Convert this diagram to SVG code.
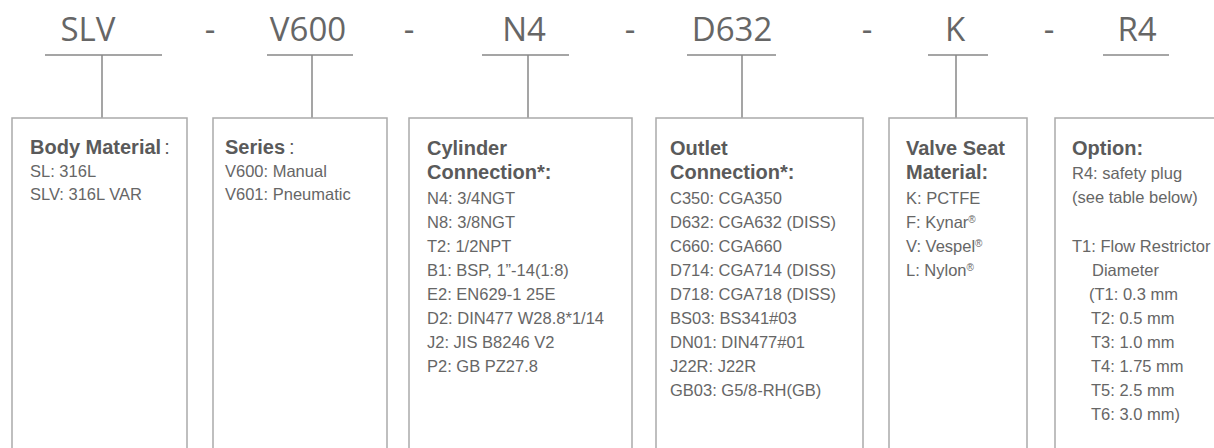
<svg xmlns="http://www.w3.org/2000/svg" width="1214" height="448" viewBox="0 0 1214 448">
<style>
.code{font-family:"Open Sans","Liberation Sans",sans-serif;font-size:33px;fill:#666;text-anchor:middle}
.ln{stroke:#888;stroke-width:1.5;fill:none}
.box{stroke:#aaa;stroke-width:1.5;fill:none}
.hd{font-family:"Liberation Sans",Arial,sans-serif;font-size:20px;font-weight:bold;fill:#5a5a5a}
.tx{font-family:"Liberation Sans",Arial,sans-serif;font-size:16.5px;fill:#666}
.rg{font-weight:normal}
.sup{font-size:10px}
</style>
<rect width="1214" height="448" fill="#fff"/>
<g id="codes">
<text class="code" x="88" y="41">SLV</text>
<text class="code" x="210" y="41">-</text>
<text class="code" x="308" y="41">V600</text>
<text class="code" x="409" y="41">-</text>
<text class="code" x="524" y="41">N4</text>
<text class="code" x="630" y="41">-</text>
<text class="code" x="732" y="41">D632</text>
<text class="code" x="867" y="41">-</text>
<text class="code" x="955" y="41">K</text>
<text class="code" x="1049" y="41">-</text>
<text class="code" x="1137" y="41">R4</text>
</g>
<g id="connectors">
<path class="ln" d="M45 55H162M102 55V118"/>
<path class="ln" d="M267 55H353M312 55V118"/>
<path class="ln" d="M482 55H569M528 55V118"/>
<path class="ln" d="M687 55H776M742 55V118"/>
<path class="ln" d="M928 55H988M956 55V118"/>
<path class="ln" d="M1103 55H1169"/>
</g>
<g id="body-material">
<path class="box" d="M12 460V118H187V460"/>
<text class="hd" x="30" y="154">Body Material<tspan class="rg" dx="3">:</tspan></text>
<text class="tx" x="30" y="177">SL: 316L</text>
<text class="tx" x="30" y="200">SLV: 316L VAR</text>
</g>
<g id="series">
<path class="box" d="M213 460V118H387V460"/>
<text class="hd" x="225" y="154">Series<tspan class="rg" dx="4">:</tspan></text>
<text class="tx" x="225" y="177">V600: Manual</text>
<text class="tx" x="225" y="200">V601: Pneumatic</text>
</g>
<g id="cylinder-connection">
<path class="box" d="M409 460V118H632V460"/>
<text class="hd" x="427" y="155">Cylinder</text>
<text class="hd" x="427" y="179">Connection*:</text>
<text class="tx" x="427" y="204">N4: 3/4NGT</text>
<text class="tx" x="427" y="228">N8: 3/8NGT</text>
<text class="tx" x="427" y="252">T2: 1/2NPT</text>
<text class="tx" x="427" y="276">B1: BSP, 1”-14(1:8)</text>
<text class="tx" x="427" y="300">E2: EN629-1 25E</text>
<text class="tx" x="427" y="324">D2: DIN477 W28.8*1/14</text>
<text class="tx" x="427" y="348">J2: JIS B8246 V2</text>
<text class="tx" x="427" y="372">P2: GB PZ27.8</text>
</g>
<g id="outlet-connection">
<path class="box" d="M656 460V118H863V460"/>
<text class="hd" x="670" y="155">Outlet</text>
<text class="hd" x="670" y="179">Connection*:</text>
<text class="tx" x="670" y="204">C350: CGA350</text>
<text class="tx" x="670" y="228">D632: CGA632 (DISS)</text>
<text class="tx" x="670" y="252">C660: CGA660</text>
<text class="tx" x="670" y="276">D714: CGA714 (DISS)</text>
<text class="tx" x="670" y="300">D718: CGA718 (DISS)</text>
<text class="tx" x="670" y="324">BS03: BS341#03</text>
<text class="tx" x="670" y="348">DN01: DIN477#01</text>
<text class="tx" x="670" y="372">J22R: J22R</text>
<text class="tx" x="670" y="396">GB03: G5/8-RH(GB)</text>
</g>
<g id="valve-seat-material">
<path class="box" d="M889 460V118H1027V460"/>
<text class="hd" x="906" y="155">Valve Seat</text>
<text class="hd" x="906" y="179">Material:</text>
<text class="tx" x="906" y="204">K: PCTFE</text>
<text class="tx" x="906" y="228">F: Kynar<tspan class="sup" dy="-5">®</tspan></text>
<text class="tx" x="906" y="252">V: Vespel<tspan class="sup" dy="-5">®</tspan></text>
<text class="tx" x="906" y="276">L: Nylon<tspan class="sup" dy="-5">®</tspan></text>
</g>
<g id="option">
<path class="box" d="M1055 460V118H1220"/>
<text class="hd" x="1072" y="155">Option:</text>
<text class="tx" x="1072" y="179">R4: safety plug</text>
<text class="tx" x="1072" y="203">(see table below)</text>
<text class="tx" x="1072" y="252">T1: Flow Restrictor</text>
<text class="tx" x="1092" y="276">Diameter</text>
<text class="tx" x="1089" y="300">(T1: 0.3 mm</text>
<text class="tx" x="1091" y="324">T2: 0.5 mm</text>
<text class="tx" x="1091" y="348">T3: 1.0 mm</text>
<text class="tx" x="1091" y="372">T4: 1.75 mm</text>
<text class="tx" x="1091" y="396">T5: 2.5 mm</text>
<text class="tx" x="1091" y="420">T6: 3.0 mm)</text>
</g>
</svg>
